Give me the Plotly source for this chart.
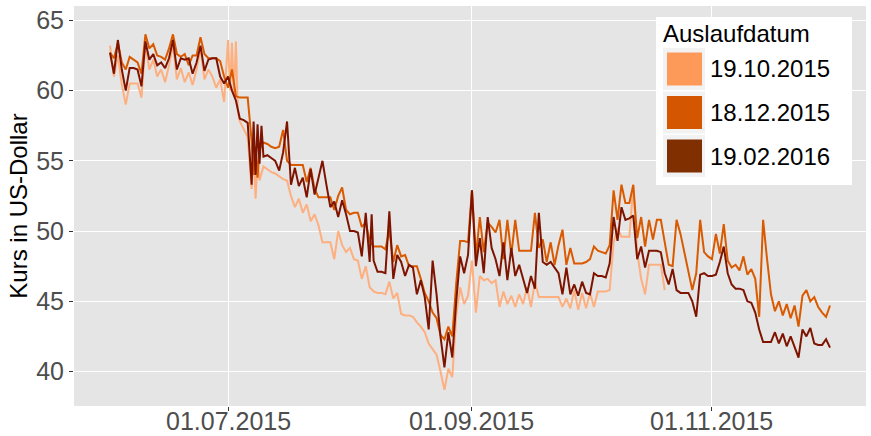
import pandas as pd
import plotly.graph_objects as go

# --- Futures prices (US-Dollar), three contracts, by trade time ---------------
dark_t = [
    "06-01", "06-02", "06-03", "06-04", "06-05", "06-06", "06-07", "06-08", "06-09", "06-10",
    "06-11", "06-12", "06-13", "06-14", "06-15", "06-16", "06-17", "06-18", "06-19", "06-20",
    "06-21", "06-22", "06-23", "06-24", "06-25", "06-26", "06-27", "06-28", "06-29", "06-30",
    "07-01", "07-02", "07-03", "07-04", "07-05", "07-06", "07-07", "07-07 12", "07-08", "07-08 12",
    "07-09", "07-09 12", "07-10", "07-11", "07-12", "07-13", "07-14", "07-15", "07-16", "07-17",
    "07-18", "07-19", "07-20", "07-21", "07-22", "07-23", "07-24", "07-25", "07-26", "07-27",
    "07-28", "07-29", "07-30", "07-31",
    "08-01", "08-02", "08-03", "08-04", "08-05", "08-06", "08-06 12", "08-07", "08-08", "08-09",
    "08-10", "08-11", "08-12", "08-13", "08-14", "08-15", "08-16", "08-17", "08-18", "08-19",
    "08-20", "08-21", "08-22", "08-23", "08-24", "08-25", "08-26", "08-27", "08-28", "08-29",
    "08-30", "08-31",
    "09-01", "09-02", "09-03", "09-04", "09-05", "09-06", "09-07", "09-08", "09-09", "09-10",
    "09-11", "09-12", "09-13", "09-14", "09-15", "09-16", "09-17", "09-18", "09-19", "09-20",
    "09-21", "09-22", "09-23", "09-24", "09-25", "09-26", "09-27", "09-28", "09-29", "09-30",
    "10-01", "10-02", "10-03", "10-04", "10-05", "10-06", "10-07", "10-08", "10-09", "10-10",
    "10-11", "10-12", "10-13", "10-14", "10-15", "10-16", "10-17", "10-18", "10-19", "10-20",
    "10-21", "10-22", "10-23", "10-24", "10-25", "10-26", "10-27", "10-28", "10-29", "10-30",
    "10-31",
    "11-01", "11-02", "11-03", "11-04", "11-05", "11-06", "11-07", "11-08", "11-09", "11-10",
    "11-11", "11-12", "11-13", "11-14", "11-15", "11-16", "11-17", "11-18", "11-19", "11-20",
    "11-21", "11-22", "11-23", "11-24", "11-25", "11-26", "11-27", "11-28", "11-29", "11-30",
    "12-01",
]
dark_v = [
    62.7, 61.2, 63.6, 61.5, 60.0, 61.6, 61.6, 61.5, 60.3, 63.5,
    62.2, 62.6, 61.8, 62.0, 61.6, 62.3, 63.6, 61.5, 62.3, 62.2,
    62.3, 61.2, 62.0, 63.2, 61.4, 62.2, 62.3, 62.3, 61.0, 60.5,
    61.0, 60.0, 59.3, 58.0, 57.9, 57.7, 53.3, 57.8, 54.0, 57.6,
    54.8, 57.5, 55.3, 55.4, 55.2, 55.0, 54.3, 55.6, 57.8, 53.3,
    54.5, 53.2, 53.8, 52.4, 54.4, 52.6, 53.8, 55.0, 53.3, 51.7,
    52.1, 51.0, 52.2, 51.2,
    50.0, 50.0, 49.9, 48.2, 51.3, 47.8, 51.2, 47.9, 47.1, 47.1,
    47.0, 51.4, 46.6, 48.3, 47.8, 46.8, 47.6, 47.4, 45.5, 46.5,
    45.3, 43.0, 47.9, 45.5, 42.5, 40.3, 42.8, 41.0, 45.0, 48.2,
    47.0, 48.3,
    52.9, 47.5, 49.5, 47.0, 51.0, 48.8, 48.0, 46.8, 49.2, 46.5,
    48.8, 46.8, 47.6, 46.5, 45.6, 46.8, 45.9, 51.3, 47.8, 47.6,
    47.8, 47.4, 47.0, 45.5, 47.4, 45.5, 46.2, 45.4, 46.4, 45.6,
    45.5, 47.0, 46.8, 46.8, 46.7, 47.7, 51.0, 49.3, 51.7, 50.8,
    50.9, 51.1, 48.0, 48.9, 47.4, 48.6, 48.6, 48.6, 48.5, 47.0,
    46.2, 47.3, 45.8, 45.6, 45.6, 45.6, 45.0, 43.9, 46.9, 47.0,
    46.8,
    46.8, 46.9, 47.8, 48.9, 47.0, 46.2, 45.9, 45.9, 45.8, 45.0,
    44.9, 44.2, 43.0, 42.1, 42.1, 42.1, 42.8, 42.0, 42.7, 41.8,
    42.5, 41.8, 41.0, 43.0, 42.5, 43.1, 42.0, 41.9, 41.9, 42.3,
    41.7,
]

orange_t = [
    "06-01", "06-02", "06-03", "06-04", "06-05", "06-06", "06-07", "06-08", "06-09", "06-10",
    "06-11", "06-12", "06-13", "06-14", "06-15", "06-16", "06-17", "06-18", "06-19", "06-20",
    "06-21", "06-22", "06-23", "06-24", "06-25", "06-26", "06-27", "06-28", "06-29", "06-30",
    "07-01", "07-02", "07-03", "07-04", "07-05", "07-06", "07-07", "07-07 12", "07-08", "07-08 12",
    "07-09", "07-10", "07-11", "07-12", "07-13", "07-14", "07-15", "07-16", "07-17", "07-18",
    "07-19", "07-20", "07-21", "07-22", "07-23", "07-24", "07-25", "07-26", "07-27", "07-28",
    "07-29", "07-30", "07-31",
    "08-01", "08-02", "08-03", "08-04", "08-05", "08-06", "08-07", "08-08", "08-09", "08-10",
    "08-11", "08-12", "08-13", "08-14", "08-15", "08-16", "08-17", "08-18", "08-19", "08-20",
    "08-21", "08-22", "08-23", "08-24", "08-25", "08-26", "08-27", "08-28", "08-29", "08-30",
    "08-31",
    "09-01", "09-02", "09-03", "09-04", "09-05", "09-06", "09-07", "09-08", "09-09", "09-10",
    "09-11", "09-12", "09-13", "09-14", "09-15", "09-16", "09-17", "09-18", "09-19", "09-20",
    "09-21", "09-22", "09-23", "09-24", "09-25", "09-26", "09-27", "09-28", "09-29", "09-30",
    "10-01", "10-02", "10-03", "10-04", "10-05", "10-06", "10-07", "10-08", "10-09", "10-10",
    "10-11", "10-12", "10-13", "10-14", "10-15", "10-16", "10-17", "10-18", "10-19", "10-20",
    "10-21", "10-22", "10-23", "10-24", "10-25", "10-26", "10-27", "10-28", "10-29", "10-30",
    "10-31",
    "11-01", "11-02", "11-03", "11-04", "11-05", "11-06", "11-07", "11-08", "11-09", "11-10",
    "11-11", "11-12", "11-13", "11-14", "11-15", "11-16", "11-17", "11-18", "11-19", "11-20",
    "11-21", "11-22", "11-23", "11-24", "11-25", "11-26", "11-27", "11-28", "11-29", "11-30",
    "12-01",
]
orange_v = [
    62.7, 62.3, 63.4, 62.0, 61.5, 62.4, 62.2, 62.0, 61.2, 64.0,
    63.0, 63.3, 62.5, 62.4, 62.2, 63.0, 64.0, 62.6, 62.4, 62.6,
    61.8, 62.5, 62.5, 63.8, 62.6, 62.3, 62.3, 62.3, 62.1, 61.0,
    60.2, 61.5, 59.6, 59.5, 59.5, 59.5, 56.4, 54.0, 56.0, 53.8,
    55.8, 56.3, 56.2, 56.0, 55.9, 56.0, 57.2, 55.0, 54.7, 54.7,
    54.7, 54.7, 53.5, 54.5, 53.0, 52.4, 52.4, 52.4, 52.4, 51.5,
    52.5, 53.1, 51.5,
    51.2, 51.3, 51.3, 50.3, 50.6, 49.3, 48.9, 48.9, 48.9, 48.7,
    50.1, 47.8, 49.0, 48.2, 48.3, 47.5, 47.5, 47.5, 46.6, 45.6,
    45.0, 44.2, 43.8, 42.6, 42.3, 43.2, 42.5, 46.3, 49.3, 49.3,
    49.2,
    52.9, 48.2, 51.0, 48.5, 50.6, 50.3, 49.9, 50.8, 48.0, 50.8,
    48.3, 50.8, 48.6, 48.6, 48.6, 48.6, 51.3, 48.8, 49.4, 47.8,
    49.2, 47.6, 49.0, 50.1, 47.6, 48.8, 47.7, 47.7, 47.7, 47.8,
    48.0, 48.9, 48.6, 48.5, 48.4, 49.0, 52.9, 50.8, 53.3, 52.0,
    52.0, 53.3, 49.5, 51.0, 48.9, 50.8, 49.4, 50.8, 50.8, 49.2,
    47.6, 47.5, 50.8, 49.8, 48.5, 47.2, 45.8, 47.0, 50.8, 48.5,
    48.2,
    48.0, 49.8, 48.4, 50.5, 47.9, 47.4, 47.6, 47.2, 48.2, 46.9,
    47.3, 46.6, 43.9, 50.8, 48.0, 45.5, 44.3, 45.0, 44.0, 44.8,
    43.8, 44.7, 43.2, 45.4, 45.8, 45.0, 45.3, 44.6, 44.2, 43.9,
    44.7,
]

light_t = [
    "06-01", "06-02", "06-03", "06-04", "06-05", "06-06", "06-07", "06-08", "06-09", "06-10",
    "06-11", "06-12", "06-13", "06-14", "06-15", "06-16", "06-17", "06-18", "06-19", "06-20",
    "06-21", "06-22", "06-23", "06-24", "06-25", "06-26", "06-27", "06-28", "06-29", "06-30",
    "07-01", "07-01 12", "07-02", "07-02 12", "07-03", "07-03 12", "07-04", "07-05", "07-06", "07-07",
    "07-07 12", "07-08", "07-08 12", "07-09", "07-10", "07-11", "07-12", "07-13", "07-14", "07-15",
    "07-16", "07-17", "07-18", "07-19", "07-20", "07-21", "07-22", "07-23", "07-24", "07-25",
    "07-26", "07-27", "07-28", "07-29", "07-30", "07-31",
    "08-01", "08-02", "08-03", "08-04", "08-05", "08-06", "08-07", "08-08", "08-09", "08-10",
    "08-11", "08-12", "08-13", "08-14", "08-15", "08-16", "08-17", "08-18", "08-19", "08-20",
    "08-21", "08-22", "08-23", "08-24", "08-25", "08-26", "08-27", "08-28", "08-29", "08-30",
    "08-31",
    "09-01", "09-02", "09-03", "09-04", "09-05", "09-06", "09-07", "09-08", "09-09", "09-10",
    "09-11", "09-12", "09-13", "09-14", "09-15", "09-16", "09-17", "09-18", "09-19", "09-20",
    "09-21", "09-22", "09-23", "09-24", "09-25", "09-26", "09-27", "09-28", "09-29", "09-30",
    "10-01", "10-02", "10-03", "10-04", "10-05", "10-06", "10-07", "10-08", "10-09", "10-10",
    "10-11", "10-12", "10-13", "10-14", "10-15", "10-16", "10-17", "10-18", "10-19", "10-20",
]
light_v = [
    63.2, 61.0, 62.5, 60.4, 59.0, 60.5, 60.5, 60.5, 59.5, 63.4,
    61.5, 62.2, 61.0, 61.5, 60.6, 61.8, 63.3, 60.8, 61.6, 60.6,
    61.3, 60.4, 61.5, 63.0, 60.8, 61.5, 61.0, 60.2, 60.8, 59.2,
    63.6, 60.0, 63.4, 59.6, 63.5, 58.5, 57.8, 57.3, 56.7, 53.0,
    55.8, 52.3, 55.0, 53.6, 54.6, 54.4, 54.2, 54.1, 53.9, 53.7,
    53.6, 52.5, 51.7, 52.3, 51.3, 51.9, 50.7, 51.2, 50.4, 49.2,
    49.2, 49.2, 48.0, 50.0, 49.0, 48.5,
    48.8, 48.0, 47.9, 46.6, 47.5, 46.0, 45.7, 45.6, 45.6, 45.5,
    46.4, 45.2, 45.6, 44.1, 44.0, 44.0, 43.9, 43.5, 43.2, 42.8,
    42.0, 41.6, 41.2, 40.0, 38.7, 40.2, 39.6, 44.0, 46.0, 44.8,
    45.4,
    47.9, 44.2, 46.8, 46.5, 46.6, 46.3, 46.5, 44.6, 45.7, 44.8,
    45.4, 44.6, 45.5, 44.8, 46.0, 44.6, 46.4, 45.3, 45.3, 45.3,
    45.3, 45.3, 45.3, 44.6, 45.2, 44.5, 45.8, 44.4, 45.6, 44.5,
    45.6, 44.6, 45.7, 45.7, 45.7, 45.8, 49.2, 50.2, 49.6, 49.6,
    49.6, 53.2, 48.5, 46.6, 45.5, 47.6, 47.6, 47.6, 47.6, 45.8,
]

contracts = ["19.10.2015", "18.12.2015", "19.02.2016"]
line_colors = ["#FDAF80", "#D95A00", "#7E1400"]
key_colors = ["#FD9A5A", "#D55600", "#7F2F00"]

tick_dates = ["2015-07-01", "2015-09-01", "2015-11-01"]
tick_text = ["01.07.2015", "01.09.2015", "01.11.2015"]
y_ticks = [40, 45, 50, 55, 60, 65]


def to_time(items):
    out = []
    for s in items:
        if " " in s:
            d, h = s.split(" ")
            out.append(pd.Timestamp(f"2015-{d} {h}:00"))
        else:
            out.append(pd.Timestamp(f"2015-{s}"))
    return out


series = [(light_t, light_v), (orange_t, orange_v), (dark_t, dark_v)]

fig = go.Figure()
for (t, v), name, col in zip(series, contracts, line_colors):
    fig.add_trace(go.Scatter(
        x=to_time(t), y=v, mode="lines", name=name,
        line=dict(color=col, width=2), showlegend=False,
    ))

# x range: data span with 5% padding on both sides
all_t = to_time(dark_t) + to_time(orange_t) + to_time(light_t)
t0, t1 = min(all_t), max(all_t)
pad = (t1 - t0) * 0.05
x_range = [t0 - pad, t1 + pad]

W, H = 871, 436
ML, MR, MT, MB = 74, 5, 6, 30
PW, PH = W - ML - MR, H - MT - MB

font_family = "Liberation Sans, Arial, Helvetica, sans-serif"
tick_font = dict(size=25, color="#4D4D4D", family=font_family)

fig.update_layout(
    width=W, height=H,
    margin=dict(l=ML, r=MR, t=MT, b=MB),
    paper_bgcolor="white",
    plot_bgcolor="#E5E5E5",
    font=dict(family=font_family),
    xaxis=dict(
        range=x_range, tickvals=tick_dates, showticklabels=False,
        showgrid=True, gridcolor="white", gridwidth=1.2,
        zeroline=False, showline=False, automargin=False,
        ticks="outside", ticklen=4, tickcolor="#333333",
    ),
    yaxis=dict(
        range=[37.55, 66.02], tickvals=y_ticks,
        showgrid=True, gridcolor="white", gridwidth=1.2,
        zeroline=False, showline=False, automargin=False,
        ticks="outside", ticklen=4, tickcolor="#333333",
        tickfont=tick_font,
        title=dict(text="Kurs in US-Dollar", font=dict(size=24, color="black"), standoff=1),
    ),
)


# pixel helpers for items placed in paper coordinates
def px(x):
    return (x - ML) / PW


def py(y):
    return (H - MB - y) / PH


annotations = []
# date labels under the x ticks, sitting close to the panel like ggplot's
for d, txt in zip(tick_dates, tick_text):
    annotations.append(dict(text=txt, x=d, xref="x", y=py(421), yref="paper",
                            xanchor="center", yanchor="middle", showarrow=False,
                            font=tick_font))

# legend panel
shapes = [dict(type="rect", xref="paper", yref="paper",
               x0=px(656), x1=px(852), y0=py(185), y1=py(17),
               fillcolor="white", line=dict(width=0), layer="above")]
annotations.append(dict(text="Auslaufdatum", xref="paper", yref="paper",
                        x=px(661), y=py(33), xanchor="left", yanchor="middle",
                        showarrow=False, font=dict(size=24, color="black")))
key_top = [48, 91.5, 135]
for top, name, col in zip(key_top, contracts, key_colors):
    shapes.append(dict(type="rect", xref="paper", yref="paper",
                       x0=px(663), x1=px(705), y0=py(top + 42), y1=py(top),
                       fillcolor="#F2F2F2", line=dict(width=0), layer="above"))
    shapes.append(dict(type="rect", xref="paper", yref="paper",
                       x0=px(667), x1=px(702), y0=py(top + 37.5), y1=py(top + 4.5),
                       fillcolor=col, line=dict(width=0), layer="above"))
    annotations.append(dict(text=name, xref="paper", yref="paper",
                            x=px(708), y=py(top + 21), xanchor="left", yanchor="middle",
                            showarrow=False, font=dict(size=24, color="black")))

fig.update_layout(shapes=shapes, annotations=annotations)

fig.write_html("out.html")
